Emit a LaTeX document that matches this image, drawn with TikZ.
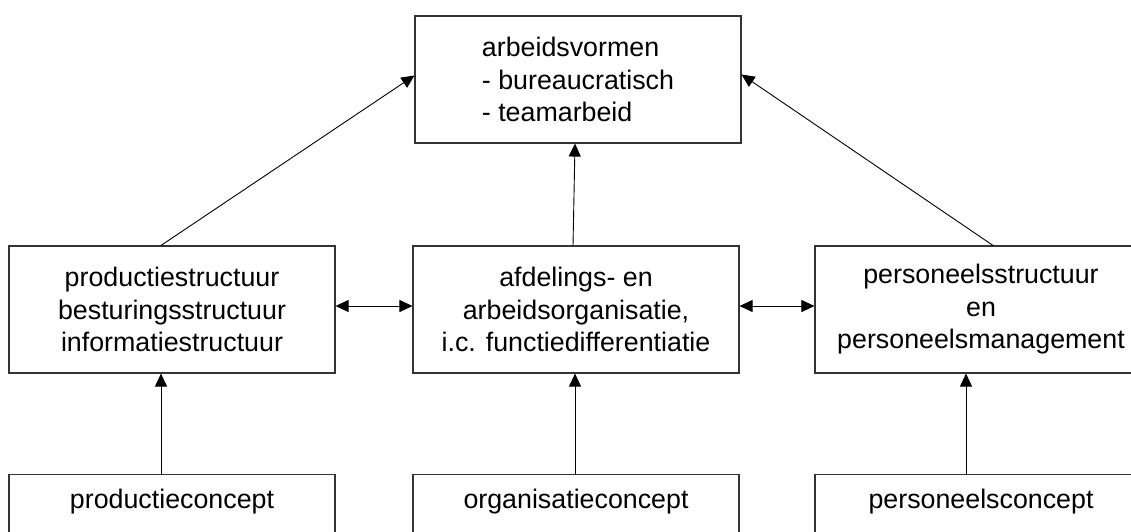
\documentclass[tikz,border=0pt]{standalone}
\usepackage{fontspec}
\setmainfont{Liberation Sans}
\usetikzlibrary{arrows.meta}
\begin{document}
\begin{tikzpicture}[x=1pt,y=-1pt,
  box/.style={draw=black!80,line width=1.1pt,inner sep=0pt,align=center,
    font=\fontsize{26.8}{32.5}\selectfont},
  conn/.style={draw=black,line width=0.9pt,-{Triangle[length=13pt,width=12pt]}},
  biconn/.style={draw=black,line width=0.9pt,{Triangle[length=13pt,width=12pt]}-{Triangle[length=13pt,width=12pt]}}]
\useasboundingbox (0,0) rectangle (1131,531);
\clip (0,0) rectangle (1131,531);
\fill[white] (0,0) rectangle (1131,531);
% top
\node[box,minimum width=326pt,minimum height=127pt,align=left] (top) at (578,79.5)
  {arbeidsvormen\\- bureaucratisch\\- teamarbeid};
% middle row
\node[box,minimum width=326pt,minimum height=127pt] (ls) at (172,309.5)
  {productiestructuur\\besturingsstructuur\\informatiestructuur};
\node[box,minimum width=326pt,minimum height=127pt] (ms) at (576,309.5)
  {afdelings- en\\arbeidsorganisatie,\\i.c. functiedifferentiatie};
\node[box,minimum width=332pt,minimum height=127pt] (rs) at (981,309.5)
  {personeelsstructuur\\en\\personeelsmanagement};
% bottom row
\node[box,anchor=north,minimum width=326pt,text height=34pt,text depth=40pt] (pc) at (172,474) {productieconcept};
\node[box,anchor=north,minimum width=326pt,text height=34pt,text depth=40pt] (oc) at (576,474) {organisatieconcept};
\node[box,anchor=north,minimum width=332pt,text height=34pt,text depth=40pt] (rc) at (981,474) {personeelsconcept};
% connectors
\draw[conn] ([xshift=-11pt]pc.north) -- ([xshift=-11pt]ls.south);
\draw[conn] ([xshift=-1pt]oc.north) -- ([xshift=-1pt]ms.south);
\draw[conn] ([xshift=-15pt]rc.north) -- ([xshift=-15pt]rs.south);
\draw[conn] ([xshift=-3pt]ms.north) -- ([xshift=-3pt]top.south);
\draw[conn] ([xshift=-11pt]ls.north) -- ([yshift=4pt]top.west);
\draw[conn] ([xshift=12pt]rs.north) -- ([yshift=5pt]top.east);
\draw[biconn] ([yshift=3.5pt]ls.east) -- ([yshift=3.5pt]ms.west);
\draw[biconn] ([yshift=3.5pt]ms.east) -- ([yshift=3.5pt]rs.west);
\end{tikzpicture}
\end{document}
